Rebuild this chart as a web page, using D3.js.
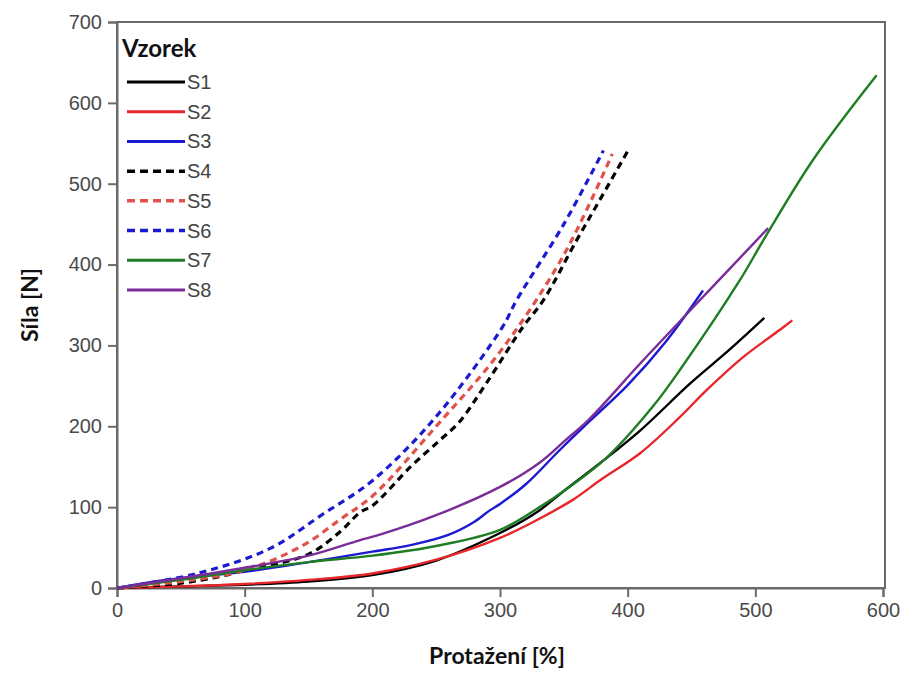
<!DOCTYPE html>
<html><head><meta charset="utf-8">
<script src="https://cdn.jsdelivr.net/npm/d3@7"></script>
<style>body{margin:0;background:#fff;}svg{display:block;}</style>
</head><body>
<svg id="c" width="911" height="675"></svg>
<script>
const xTicks = [0,100,200,300,400,500,600];
const yTicks = [0,100,200,300,400,500,600,700];
const legendTitle = "Vzorek";
const xTitle = "Protažení [%]";
const yTitle = "Síla [N]";

const seriesNames = ["S1","S2","S3","S4","S5","S6","S7","S8"];
const seriesColors = ["#000000","#e8262b","#1c1ad0","#000000","#e0524a","#1c1ad0","#1f7d24","#7a2c98"];
const seriesDashed = [false,false,false,true,true,true,false,false];

const s1 = [[0,0],[50,2],[100,4],[150,8],[200,16],[250,34],[300,68],[330,95],[350,120],[378,154],[410,195],[449,253],[480,295],[507,334]];
const s2 = [[0,0],[50,2],[100,5],[150,10],[200,18],[250,35],[300,62],[330,85],[357,109],[380,135],[410,167],[440,210],[462,245],[490,285],[519,319],[529,331]];
const s3 = [[0,0],[25,7],[50,12],[100,20],[150,32],[200,45],[230,53],[260,66],[280,82],[292,96],[300,104],[320,128],[347,171],[370,206],[400,251],[430,305],[459,368]];
const s4 = [[0,0],[50,6],[80,14],[100,22],[149,41],[175,70],[190,93],[201,103],[230,150],[253,183],[268,205],[290,255],[318,323],[334,356],[360,430],[380,485],[401,543]];
const s5 = [[0,0],[50,8],[100,22],[146,53],[175,85],[201,115],[250,200],[300,292],[350,412],[388,537]];
const s6 = [[0,0],[63,18],[120,49],[160,90],[201,134],[250,212],[302,323],[313,356],[350,450],[381,541]];
const s7 = [[0,0],[50,10],[100,22],[150,32],[200,40],[250,52],[300,72],[331,100],[350,120],[384,162],[420,225],[441,270],[488,381],[507,432],[545,529],[595,634]];
const s8 = [[0,0],[50,12],[100,25],[150,40],[190,59],[204,65],[250,90],[300,125],[331,155],[350,181],[370,209],[410,278],[450,345],[480,395],[510,445]];
const seriesData = [s1,s2,s3,s4,s5,s6,s7,s8];

const svg = d3.select("#c");
const L = 117, R = 883, T = 22, B = 588;
const x = d3.scaleLinear().domain([0,600]).range([L,R]);
const y = d3.scaleLinear().domain([0,700]).range([B,T]);

const axisColor = "#6a6a6a";
const tickFont = "'Liberation Sans', Arial, sans-serif";

svg.append("rect").attr("x",L).attr("y",T).attr("width",R-L+2).attr("height",B-T)
  .attr("fill","none").attr("stroke",axisColor).attr("stroke-width",2);

const xa = svg.append("g").attr("transform",`translate(0,${B})`)
  .call(d3.axisBottom(x).tickValues(xTicks).tickSize(9).tickPadding(6).tickFormat(d3.format("d")));
const ya = svg.append("g").attr("transform",`translate(${L},0)`)
  .call(d3.axisLeft(y).tickValues(yTicks).tickSize(9).tickPadding(6).tickFormat(d3.format("d")));
[xa,ya].forEach(a=>{
  a.select(".domain").attr("stroke",axisColor).attr("stroke-width",2);
  a.selectAll(".tick line").attr("stroke",axisColor).attr("stroke-width",2);
  a.selectAll(".tick text").attr("fill","#4a4a4a").style("font-family",tickFont).style("font-size","20px");
});

const line = d3.line().x(d=>x(d[0])).y(d=>y(d[1])).curve(d3.curveCatmullRom.alpha(0.5));
svg.append("g").selectAll("path").data(seriesData).join("path")
  .attr("d",line).attr("fill","none")
  .attr("stroke",(d,i)=>seriesColors[i])
  .attr("stroke-width",(d,i)=>seriesDashed[i]?3.2:2.4)
  .attr("stroke-dasharray",(d,i)=>seriesDashed[i]?"7,5":null)
  .attr("stroke-linecap","butt");

const lg = svg.append("g");
lg.append("text").attr("x",122).attr("y",57).text(legendTitle)
  .style("font-family","Lato, 'Open Sans', sans-serif").style("font-weight","bold").style("font-size","24px").attr("fill","#111");
const rowY = d3.scaleLinear().domain([0,7]).range([82,290]);
seriesNames.forEach((n,i)=>{
  const yy = rowY(i);
  lg.append("line").attr("x1",127).attr("x2",185).attr("y1",yy).attr("y2",yy)
    .attr("stroke",seriesColors[i]).attr("stroke-width",seriesDashed[i]?3.5:3)
    .attr("stroke-dasharray",seriesDashed[i]?"8,5":null);
  lg.append("text").attr("x",187).attr("y",yy+7).text(n)
    .style("font-family",tickFont).style("font-size","20px").attr("fill","#444");
});

svg.append("text").attr("x",(L+R)/2-3).attr("y",664).attr("text-anchor","middle").text(xTitle)
  .style("font-family","Lato, 'Open Sans', sans-serif").style("font-weight","bold").style("font-size","23px").attr("fill","#111");
svg.append("text").attr("transform","translate(38,305) rotate(-90)").attr("text-anchor","middle").text(yTitle)
  .style("font-family","Lato, 'Open Sans', sans-serif").style("font-weight","bold").style("font-size","23px").attr("fill","#111");
</script>
</body></html>
